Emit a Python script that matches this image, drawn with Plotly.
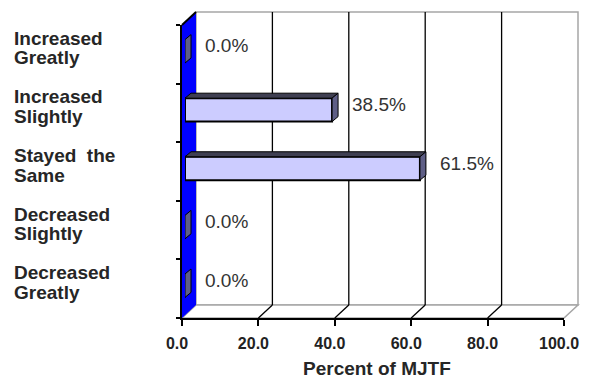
import plotly.graph_objects as go

# ---------------- data ----------------
categories = ["Increased Greatly", "Increased Slightly", "Stayed the Same",
              "Decreased Slightly", "Decreased Greatly"]
label_lines = [["Increased", "Greatly"], ["Increased", "Slightly"],
               ["Stayed  the", "Same"], ["Decreased", "Slightly"],
               ["Decreased", "Greatly"]]
values = [0.0, 38.5, 61.5, 0.0, 0.0]
value_labels = ["0.0%", "38.5%", "61.5%", "0.0%", "0.0%"]
tick_values = [0, 20, 40, 60, 80, 100]
tick_labels = ["0.0", "20.0", "40.0", "60.0", "80.0", "100.0"]
axis_title = "Percent of MJTF"

# ---------------- geometry (pixels, in the 590x378 window) ----------------
PAGE_OFF = 8                 # default body margin of the html page
W, H = 590 - PAGE_OFF, 378 - PAGE_OFF
FX0, FX1 = 182, 564          # front floor edge (0 .. 100)
FY0, FY1 = 25, 318           # front plane top / bottom
DX, DY = 14, 13              # depth of the back wall
BS = 3                       # bar plane shift from front plane
BDX, BDY = 6, 5              # bar extrusion depth
BAR_W = 0.4
N = len(categories)

FONT = "Liberation Sans"
GRAY = "#a6a6a6"


def px(x):
    return (x - PAGE_OFF) / W


def py(y):
    return 1 - (y - PAGE_OFF) / H


ux = 100.0 / (FX1 - FX0)     # data units per px (x)
uy = N / (FY1 - FY0)         # data units per px (y)

fig = go.Figure()

# empty trace so that the front (labelled) axes are drawn
fig.add_trace(go.Scatter(x=[], y=[], xaxis="x", yaxis="y",
                         hoverinfo="skip", showlegend=False))

fig.add_trace(go.Bar(
    x=values, y=list(range(N)), orientation="h", width=BAR_W,
    xaxis="x2", yaxis="y2",
    marker=dict(color="#ccccff", line=dict(color="#000000", width=2)),
    hoverinfo="skip", showlegend=False,
))

shapes = []

# back wall + floor
shapes.append(dict(type="path", xref="paper", yref="paper", layer="below",
                   path=f"M{px(FX0+DX)},{py(FY0-DY)} L{px(FX1+DX)},{py(FY0-DY)} "
                        f"L{px(FX1+DX)},{py(FY1-DY)} L{px(FX0+DX)},{py(FY1-DY)} Z",
                   fillcolor="white", line=dict(color=GRAY, width=1.5)))
shapes.append(dict(type="path", xref="paper", yref="paper", layer="below",
                   path=f"M{px(FX0)},{py(FY1)} L{px(FX1)},{py(FY1)} "
                        f"L{px(FX1+DX)},{py(FY1-DY)} L{px(FX0+DX)},{py(FY1-DY)} Z",
                   fillcolor="white", line=dict(color=GRAY, width=1.5)))
# blue side wall
shapes.append(dict(type="path", xref="paper", yref="paper", layer="below",
                   path=f"M{px(FX0)},{py(FY1)} L{px(FX0)},{py(FY0)} "
                        f"L{px(FX0+DX)},{py(FY0-DY)} L{px(FX0+DX)},{py(FY1-DY)} Z",
                   fillcolor="#0000ff", line=dict(width=0)))
shapes.append(dict(type="line", xref="paper", yref="paper", layer="below",
                   x0=px(FX0), y0=py(FY0), x1=px(FX0+DX), y1=py(FY0-DY),
                   line=dict(color="black", width=2)))

# gridlines on back wall and floor
for t in tick_values[1:-1]:
    fx = FX0 + t / 100.0 * (FX1 - FX0)
    shapes.append(dict(type="line", xref="paper", yref="paper", layer="below",
                       x0=px(fx+DX), y0=py(FY0-DY), x1=px(fx+DX), y1=py(FY1-DY),
                       line=dict(color="black", width=1.3)))
    shapes.append(dict(type="line", xref="paper", yref="paper", layer="below",
                       x0=px(fx+DX), y0=py(FY1-DY), x1=px(fx), y1=py(FY1),
                       line=dict(color="black", width=1.3)))

# bar extrusions
dxu, dyu = BDX * ux, BDY * uy
for i, v in enumerate(values):
    yt, yb = i - BAR_W / 2, i + BAR_W / 2
    if v > 0:
        shapes.append(dict(type="path", xref="x2", yref="y2", layer="above",
                           path=f"M0,{yt} L{v},{yt} L{v+dxu},{yt-dyu} L{dxu},{yt-dyu} Z",
                           fillcolor="#3f3f52", line=dict(color="black", width=1)))
    shapes.append(dict(type="path", xref="x2", yref="y2", layer="above",
                       path=f"M{v},{yt} L{v+dxu},{yt-dyu} L{v+dxu},{yb-dyu} L{v},{yb} Z",
                       fillcolor="#5e5e86", line=dict(color="black", width=1)))

annotations = []
for i, lines in enumerate(label_lines):
    for j, ln in enumerate(lines):
        annotations.append(dict(
            xref="paper", yref="y2", x=px(12), y=i, xanchor="left", yanchor="middle",
            yshift=13 - 19.5 * j, text=ln, showarrow=False,
            font=dict(family=FONT, size=19, color="#262626", weight="bold")))
for i, (v, t) in enumerate(zip(values, value_labels)):
    annotations.append(dict(
        xref="x2", yref="y2", x=v, y=i, xanchor="left", yanchor="middle",
        xshift=18, yshift=5.5, text=t, showarrow=False,
        font=dict(family=FONT, size=19, color="#333333")))
annotations.append(dict(
    xref="paper", yref="paper", x=px(377), y=py(368), xanchor="center",
    yanchor="middle", text=axis_title, showarrow=False,
    font=dict(family=FONT, size=19, color="#262626", weight="bold")))

fig.update_layout(
    width=W, height=H, autosize=False,
    margin=dict(l=0, r=0, t=0, b=0, pad=0, autoexpand=False),
    paper_bgcolor="white", plot_bgcolor="rgba(0,0,0,0)",
    font=dict(family=FONT),
    showlegend=False,
    xaxis=dict(domain=[px(FX0), px(FX1)], range=[0, 100], anchor="y",
               automargin=False,
               tickvals=tick_values, ticktext=tick_labels, ticks="outside",
               ticklen=6, tickwidth=1.5, tickcolor="black",
               showline=True, linecolor="black", linewidth=1.5,
               showgrid=False, zeroline=False, fixedrange=True,
               ticklabelstandoff=4, ticklabelshift=-5,
               tickfont=dict(family=FONT, size=16, color="#222222", weight="bold")),
    yaxis=dict(domain=[py(FY1), py(FY0)], range=[N - 0.5, -0.5], anchor="x",
               automargin=False,
               tickvals=[k - 0.5 for k in range(N + 1)], showticklabels=False,
               ticks="outside", ticklen=4, tickwidth=1.5, tickcolor="black",
               showline=True, linecolor="black", linewidth=1.5,
               showgrid=False, zeroline=False, fixedrange=True),
    xaxis2=dict(domain=[px(FX0 + BS), px(FX1 + BS)], range=[0, 100], anchor="y2",
                visible=False, fixedrange=True, automargin=False),
    yaxis2=dict(domain=[py(FY1 - BS), py(FY0 - BS)], range=[N - 0.5, -0.5],
                anchor="x2", visible=False, fixedrange=True, automargin=False),
    shapes=shapes,
    annotations=annotations,
)

fig.write_html("out.html")
